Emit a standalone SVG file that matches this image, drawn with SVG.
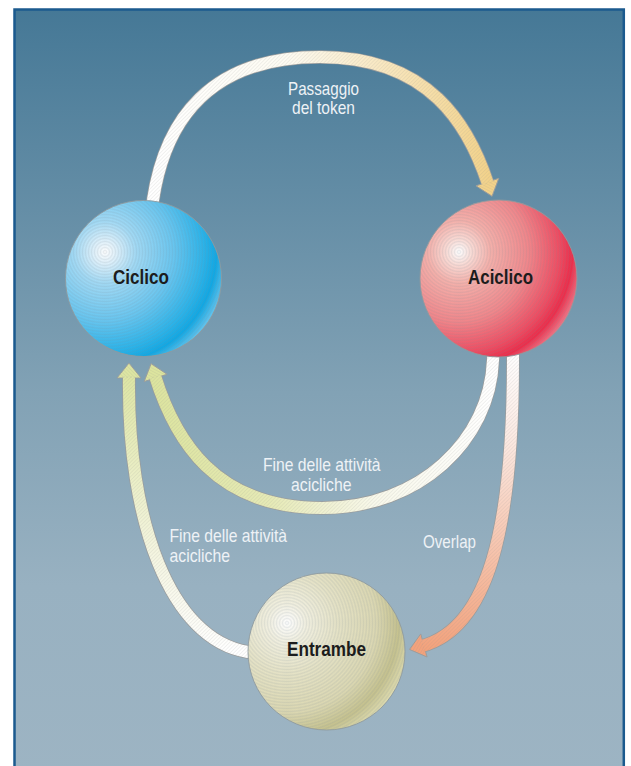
<svg xmlns="http://www.w3.org/2000/svg" xmlns:xlink="http://www.w3.org/1999/xlink" width="631" height="766" viewBox="0 0 631 766">
<defs>
<style>
.lbl{font-family:"Liberation Sans Narrow","Liberation Sans",Arial,sans-serif;font-size:18.5px;fill:#eef2f6;}
.node-lbl{font-family:"Liberation Sans Narrow","Liberation Sans",Arial,sans-serif;font-size:21px;font-weight:bold;fill:#1c1c1c;}
.band-out{fill:none;stroke:#9a9c9c;stroke-width:13.5;}
.band{fill:none;stroke-width:12;}
.band-hatch{fill:none;stroke:url(#hatch);stroke-width:12;}
.head{stroke:#9a9c9c;stroke-width:0.9;stroke-linejoin:miter;}
.head-hatch{fill:url(#hatch);stroke:none;}
.sphere-edge{fill:none;stroke:#8e9a9e;stroke-width:0.9;}
</style>
<linearGradient id="bg" x1="0" y1="8" x2="0" y2="778" gradientUnits="userSpaceOnUse">
<stop offset="0" stop-color="#457896"/>
<stop offset="0.5" stop-color="#82a2b5"/>
<stop offset="0.75" stop-color="#98b1c1"/>
<stop offset="1" stop-color="#9db4c3"/>
</linearGradient>
<pattern id="hatch" width="2.6" height="2.6" patternUnits="userSpaceOnUse" patternTransform="rotate(45)">
<line x1="0" y1="0" x2="0" y2="2.6" stroke="#8c8c8c" stroke-opacity="0.35" stroke-width="0.7"/>
</pattern>
<linearGradient id="g1" x1="150" y1="0" x2="490" y2="0" gradientUnits="userSpaceOnUse">
<stop offset="0" stop-color="#ffffff"/>
<stop offset="0.4" stop-color="#fdfbf2"/>
<stop offset="0.7" stop-color="#f8e6bd"/>
<stop offset="1" stop-color="#f2d28a"/>
</linearGradient>
<linearGradient id="g2" x1="494" y1="0" x2="150" y2="0" gradientUnits="userSpaceOnUse">
<stop offset="0" stop-color="#ffffff"/>
<stop offset="0.35" stop-color="#f8f8ea"/>
<stop offset="0.65" stop-color="#e6eab6"/>
<stop offset="1" stop-color="#dce49e"/>
</linearGradient>
<linearGradient id="g3" x1="0" y1="350" x2="0" y2="650" gradientUnits="userSpaceOnUse">
<stop offset="0" stop-color="#ffffff"/>
<stop offset="0.3" stop-color="#fbe9e2"/>
<stop offset="1" stop-color="#f3a27c"/>
</linearGradient>
<linearGradient id="g4" x1="0" y1="652" x2="0" y2="370" gradientUnits="userSpaceOnUse">
<stop offset="0" stop-color="#ffffff"/>
<stop offset="0.35" stop-color="#f4f5e0"/>
<stop offset="1" stop-color="#dde5a2"/>
</linearGradient>
<radialGradient id="sBlue" cx="105" cy="252" r="124" gradientUnits="userSpaceOnUse">
<stop offset="0" stop-color="#ffffff"/>
<stop offset="0.1" stop-color="#dcf0fb"/>
<stop offset="0.25" stop-color="#a2daf5"/>
<stop offset="0.55" stop-color="#68c6f0"/>
<stop offset="0.8" stop-color="#28b3ea"/>
<stop offset="0.9" stop-color="#0ea8e5"/>
<stop offset="1" stop-color="#62c4ee"/>
</radialGradient>
<radialGradient id="sRed" cx="459" cy="252" r="126" gradientUnits="userSpaceOnUse">
<stop offset="0" stop-color="#ffffff"/>
<stop offset="0.1" stop-color="#fbdcd6"/>
<stop offset="0.25" stop-color="#f6b0aa"/>
<stop offset="0.55" stop-color="#f2868a"/>
<stop offset="0.8" stop-color="#f04a60"/>
<stop offset="0.9" stop-color="#ee2a48"/>
<stop offset="1" stop-color="#f27888"/>
</radialGradient>
<radialGradient id="sBeige" cx="287" cy="623" r="127" gradientUnits="userSpaceOnUse">
<stop offset="0" stop-color="#ffffff"/>
<stop offset="0.15" stop-color="#f2f0e0"/>
<stop offset="0.4" stop-color="#e6e3c6"/>
<stop offset="0.7" stop-color="#dcd8b2"/>
<stop offset="0.88" stop-color="#c6c28e"/>
<stop offset="1" stop-color="#e0ddb0"/>
</radialGradient>
<radialGradient id="ringsBlue" cx="105" cy="252" r="3" gradientUnits="userSpaceOnUse" spreadMethod="repeat">
<stop offset="0" stop-color="#7a8a96" stop-opacity="0"/>
<stop offset="0.5" stop-color="#7a8a96" stop-opacity="0.16"/>
<stop offset="1" stop-color="#7a8a96" stop-opacity="0"/>
</radialGradient>
<radialGradient id="ringsRed" cx="459" cy="252" r="3" gradientUnits="userSpaceOnUse" spreadMethod="repeat">
<stop offset="0" stop-color="#7a8a96" stop-opacity="0"/>
<stop offset="0.5" stop-color="#7a8a96" stop-opacity="0.16"/>
<stop offset="1" stop-color="#7a8a96" stop-opacity="0"/>
</radialGradient>
<radialGradient id="ringsBeige" cx="287" cy="623" r="3" gradientUnits="userSpaceOnUse" spreadMethod="repeat">
<stop offset="0" stop-color="#7a8a96" stop-opacity="0"/>
<stop offset="0.5" stop-color="#7a8a96" stop-opacity="0.16"/>
<stop offset="1" stop-color="#7a8a96" stop-opacity="0"/>
</radialGradient>
<polygon id="head" points="-2,-12 13,0 -2,12"/>
<path id="p1" d="M151 210 L153 200 C165 120 210 57 320 57 C430 57 469 126 488 184"/>
<path id="p2" d="M494 348 L493 360 C490 440 420 508 322 508 C215 508 175 440 155 376"/>
<path id="p3" d="M513 345 L513 360 C513 530 488 628 422 646"/>
<path id="p4" d="M256 652 L248 652 C170 640 127 520 129 376"/>
</defs>

<rect x="14.5" y="9.5" width="609.3" height="800" fill="url(#bg)" stroke="#1b5a8e" stroke-width="2.5"/>

<g id="connectors">
<g id="edge-token">
<use href="#p1" class="band-out"/>
<use href="#head" class="head" fill="#f2d28a" transform="translate(488 184) rotate(71.9)"/>
<use href="#p1" class="band" stroke="url(#g1)"/>
<use href="#p1" class="band-hatch"/>
<use href="#head" class="head-hatch" transform="translate(488 184) rotate(71.9)"/>
</g>
<g id="edge-fine-inner">
<use href="#p2" class="band-out"/>
<use href="#head" class="head" fill="#dce49e" transform="translate(155 376) rotate(-107.4)"/>
<use href="#p2" class="band" stroke="url(#g2)"/>
<use href="#p2" class="band-hatch"/>
<use href="#head" class="head-hatch" transform="translate(155 376) rotate(-107.4)"/>
</g>
<g id="edge-overlap">
<use href="#p3" class="band-out"/>
<use href="#head" class="head" fill="#f3a27c" transform="translate(422 646) rotate(164.7)"/>
<use href="#p3" class="band" stroke="url(#g3)"/>
<use href="#p3" class="band-hatch"/>
<use href="#head" class="head-hatch" transform="translate(422 646) rotate(164.7)"/>
</g>
<g id="edge-fine-outer">
<use href="#p4" class="band-out"/>
<use href="#head" class="head" fill="#dde5a2" transform="translate(129 376) rotate(-90)"/>
<use href="#p4" class="band" stroke="url(#g4)"/>
<use href="#p4" class="band-hatch"/>
<use href="#head" class="head-hatch" transform="translate(129 376) rotate(-90)"/>
</g>
</g>

<g id="edge-labels">
<text class="lbl" x="288" y="95" textLength="71" lengthAdjust="spacingAndGlyphs">Passaggio</text>
<text class="lbl" x="292" y="114.3" textLength="63" lengthAdjust="spacingAndGlyphs">del token</text>
<text class="lbl" x="263" y="470.7" textLength="117.5" lengthAdjust="spacingAndGlyphs">Fine delle attività</text>
<text class="lbl" x="291" y="490.7" textLength="60.5" lengthAdjust="spacingAndGlyphs">acicliche</text>
<text class="lbl" x="169.5" y="541.5" textLength="117.5" lengthAdjust="spacingAndGlyphs">Fine delle attività</text>
<text class="lbl" x="169.5" y="561.7" textLength="60.5" lengthAdjust="spacingAndGlyphs">acicliche</text>
<text class="lbl" x="423" y="548.3" textLength="53" lengthAdjust="spacingAndGlyphs">Overlap</text>
</g>

<g id="node-ciclico">
<circle cx="143.5" cy="278.5" r="78" fill="url(#sBlue)"/>
<circle cx="143.5" cy="278.5" r="78" fill="url(#ringsBlue)"/>
<circle cx="143.5" cy="278.5" r="78" class="sphere-edge"/>
<text class="node-lbl" x="113" y="283.5" textLength="56" lengthAdjust="spacingAndGlyphs">Ciclico</text>
</g>
<g id="node-aciclico">
<circle cx="498.5" cy="278.5" r="78.5" fill="url(#sRed)"/>
<circle cx="498.5" cy="278.5" r="78.5" fill="url(#ringsRed)"/>
<circle cx="498.5" cy="278.5" r="78.5" class="sphere-edge"/>
<text class="node-lbl" x="468" y="283.5" textLength="65" lengthAdjust="spacingAndGlyphs">Aciclico</text>
</g>
<g id="node-entrambe">
<circle cx="326.5" cy="651.5" r="78.5" fill="url(#sBeige)"/>
<circle cx="326.5" cy="651.5" r="78.5" fill="url(#ringsBeige)"/>
<circle cx="326.5" cy="651.5" r="78.5" class="sphere-edge"/>
<text class="node-lbl" x="287" y="655.5" textLength="79" lengthAdjust="spacingAndGlyphs">Entrambe</text>
</g>
</svg>
